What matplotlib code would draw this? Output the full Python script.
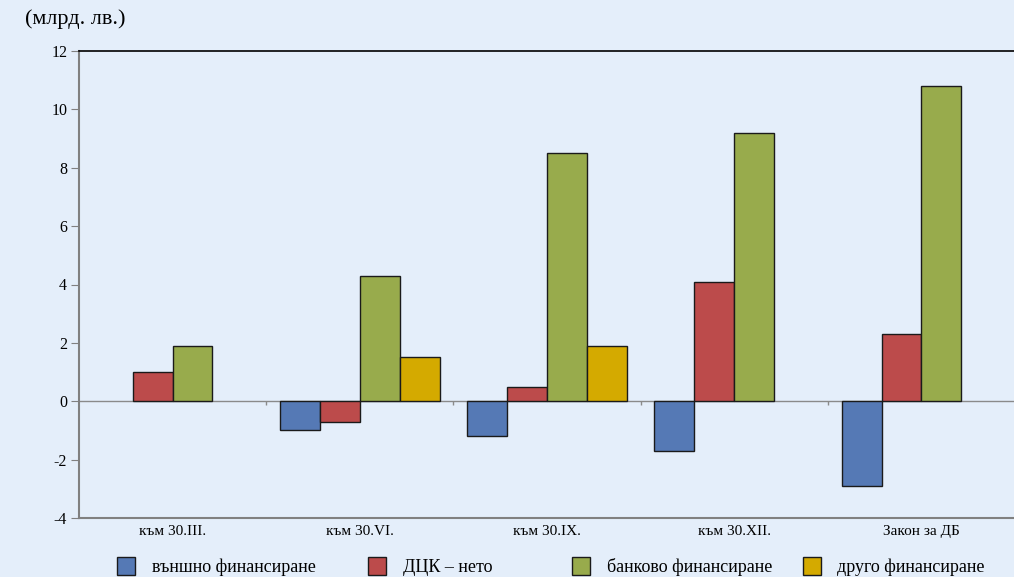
import matplotlib
matplotlib.use("Agg")
import matplotlib.pyplot as plt
import numpy as np
from matplotlib.patches import Rectangle

# Financing of the budget deficit, billion leva
categories = ["към 30.III.", "към 30.VI.", "към 30.IX.", "към 30.XII.", "Закон за ДБ"]
series_names = ["външно финансиране", "ДЦК – нето", "банково финансиране", "друго финансиране"]
external = [np.nan, -1.0, -1.2, -1.7, -2.9]
securities_net = [1.0, -0.7, 0.5, 4.1, 2.3]
banking = [1.9, 4.3, 8.5, 9.2, 10.8]
other = [np.nan, 1.5, 1.9, np.nan, np.nan]
y_ticks = [-4, -2, 0, 2, 4, 6, 8, 10, 12]

colors = ["#5579b5", "#bc4b4b", "#98ab4c", "#d4aa00"]
bg = "#e4eefa"

plt.rcParams["font.family"] = ["Liberation Serif", "DejaVu Serif"]

W, H = 1014, 577
fig = plt.figure(figsize=(W / 100, H / 100), dpi=100, facecolor=bg)
ax = fig.add_axes([79 / W, 1 - 518 / H, 936 / W, 467 / H])
ax.set_facecolor(bg)

x = np.arange(len(categories))
width = 0.213
data = [external, securities_net, banking, other]
for i, (vals, col, name) in enumerate(zip(data, colors, series_names)):
    ax.bar(x + (i - 1.5) * width, vals, width, color=col, edgecolor="#1a1a1a",
           linewidth=1.0, label=name, zorder=3)

ax.set_xlim(-0.5, len(categories) - 0.5)
ax.set_ylim(-4, 12)
ax.set_yticks(y_ticks)
ax.set_yticklabels([str(t) for t in y_ticks], fontsize=11.5)
ax.tick_params(axis="y", length=6, color="#808080", pad=2.5)
ax.set_xticks(x)
ax.set_xticklabels(categories, fontsize=11)
ax.tick_params(axis="x", length=0, pad=5)

# zero line with category separators
ax.axhline(0, color="#8a8a8a", linewidth=1.0, zorder=2)
ax.vlines(x[:-1] + 0.5, -0.12, 0, color="#8a8a8a", linewidth=1.0, zorder=2)

for side in ["left", "bottom"]:
    ax.spines[side].set_color("#808080")
    ax.spines[side].set_linewidth(1.5)
ax.spines["right"].set_visible(False)
ax.spines["top"].set_color("#000000")
ax.spines["top"].set_linewidth(1.2)

fig.text(25 / W, 1 - 19 / H, "(млрд. лв.)", fontsize=16, ha="left", va="center")

# legend row along the bottom edge
marker_left = [117, 368, 572, 803]
text_left = [152, 403, 607, 837]
for mx, tx, col, name in zip(marker_left, text_left, colors, series_names):
    fig.add_artist(Rectangle((mx / W, 1 - 575 / H), 18 / W, 18 / H,
                             transform=fig.transFigure, facecolor=col,
                             edgecolor="#1a1a1a", linewidth=1.0))
    fig.text(tx / W, 1 - 567 / H, name, fontsize=13, ha="left", va="center")

fig.savefig("out.png", dpi=100, facecolor=bg)
